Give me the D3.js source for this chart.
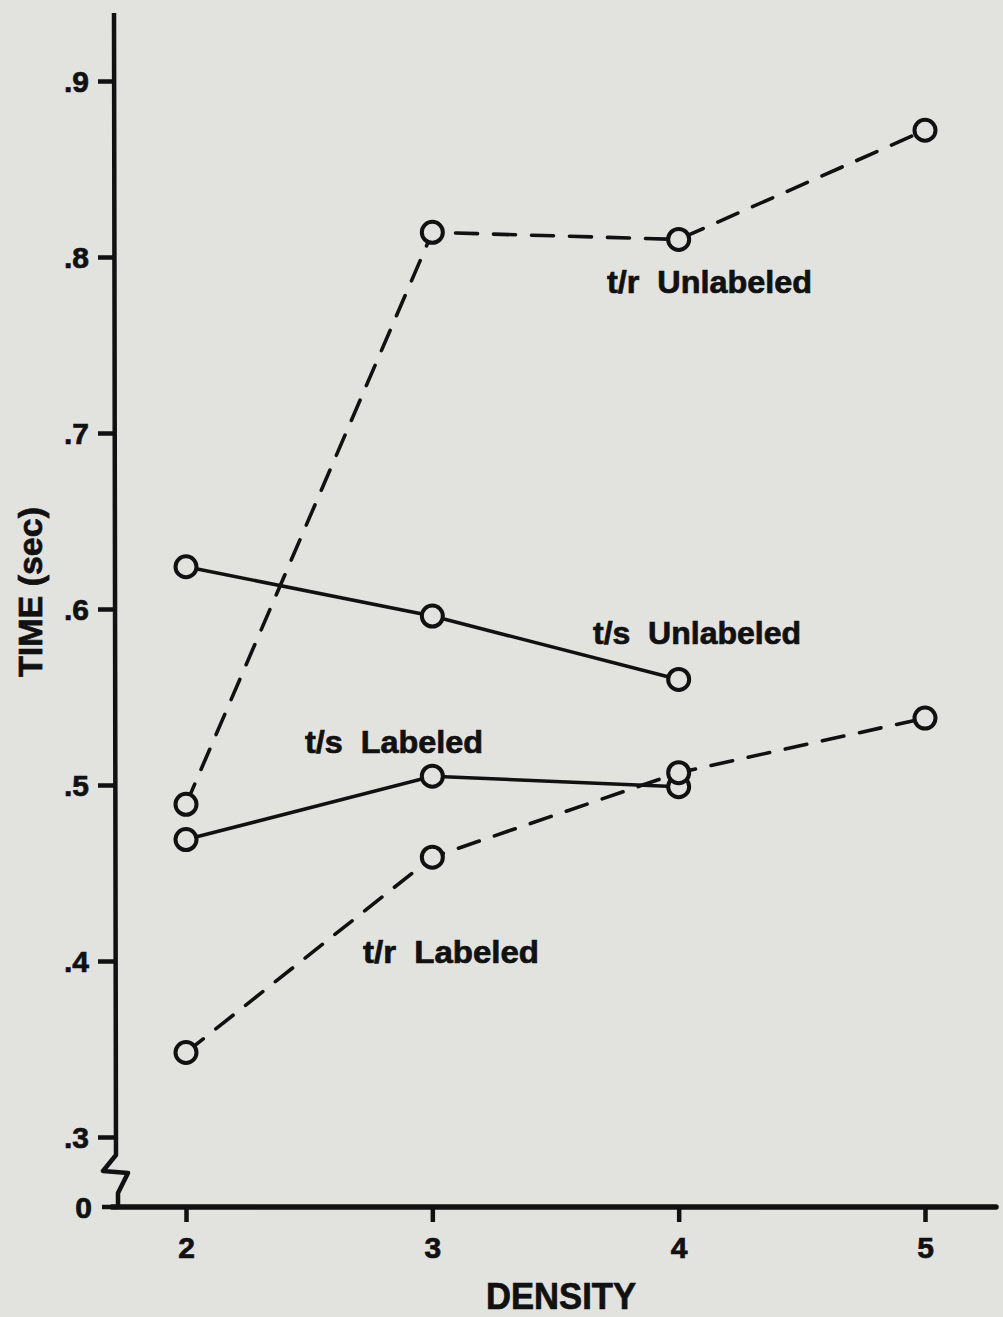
<!DOCTYPE html>
<html><head><meta charset="utf-8">
<script src="https://cdn.jsdelivr.net/npm/d3@7"></script>
<style>
html,body{margin:0;padding:0;background:#e2e2df;}
svg{display:block;}
text{font-family:"Liberation Sans",Arial,sans-serif;font-weight:bold;fill:#111;stroke:#111;stroke-width:0.7px;}
</style></head>
<body>
<script>
const densities = [2, 3, 4, 5];
const yTicks = [0.3, 0.4, 0.5, 0.6, 0.7, 0.8, 0.9];
const trUnlabeled = [0.489, 0.814, 0.810, 0.872];
const tsUnlabeled = [0.624, 0.596, 0.560];
const tsLabeled = [0.469, 0.505, 0.499];
const trLabeled = [0.348, 0.459, 0.507, 0.538];
const seriesNames = ["t/r  Unlabeled", "t/s  Unlabeled", "t/s  Labeled", "t/r  Labeled"];

const W = 1003, H = 1317;
const svg = d3.select("body").append("svg").attr("width", W).attr("height", H);
const ink = "#111";

const x = d3.scaleLinear().domain([2, 5]).range([186, 925]);
const y = d3.scaleLinear().domain([0.3, 0.9]).range([1137, 81]);
const axisX = 114, baseY = 1207;

// y axis line with break
const yPath = d3.path();
yPath.moveTo(axisX, 13);
yPath.lineTo(axisX + 2, 1155);
yPath.lineTo(103, 1171);
yPath.lineTo(128, 1173);
yPath.lineTo(118, 1193);
yPath.lineTo(118, baseY);
svg.append("path").attr("d", yPath.toString()).attr("fill", "none")
  .attr("stroke", ink).attr("stroke-width", 4.5).attr("stroke-linejoin", "round");

// y ticks
const gy = svg.append("g").attr("transform", `translate(${axisX},0)`)
  .call(d3.axisLeft(y).tickValues(yTicks).tickSize(16).tickPadding(9)
    .tickFormat(d => "." + Math.round(d * 10)));
gy.select(".domain").remove();
gy.selectAll("line").attr("stroke", ink).attr("stroke-width", 4.5);
gy.selectAll("text").style("font-size", "30px").attr("fill", ink).attr("dy", "0.36em");

// zero tick
svg.append("line").attr("x1", 102).attr("x2", 118).attr("y1", baseY).attr("y2", baseY)
  .attr("stroke", ink).attr("stroke-width", 4.5);
svg.append("text").attr("x", 92).attr("y", baseY).attr("dy", "0.36em")
  .attr("text-anchor", "end").style("font-size", "30px").text("0");

// x axis
svg.append("line").attr("x1", 112).attr("x2", 996).attr("y1", baseY).attr("y2", baseY)
  .attr("stroke", ink).attr("stroke-width", 5.5).attr("stroke-linecap", "round");
const gx = svg.append("g").attr("transform", `translate(0,${baseY})`)
  .call(d3.axisBottom(x).tickValues(densities).tickSize(15).tickPadding(15).tickFormat(d3.format("d")));
gx.select(".domain").remove();
gx.selectAll("line").attr("stroke", ink).attr("stroke-width", 4.5);
gx.selectAll("text").style("font-size", "30px").attr("fill", ink);

// axis titles
svg.append("text").attr("x", 561).attr("y", 1309).attr("text-anchor", "middle")
  .style("font-size", "37px").attr("textLength", 150).attr("lengthAdjust", "spacingAndGlyphs").text("DENSITY");
svg.append("text").attr("transform", "translate(42,592) rotate(-90)")
  .attr("text-anchor", "middle").style("font-size", "34px").attr("textLength", 170)
  .attr("lengthAdjust", "spacingAndGlyphs").text("TIME (sec)");

// series
const series = [
  {vals: trUnlabeled, dash: "22,16"},
  {vals: tsUnlabeled, dash: null},
  {vals: tsLabeled, dash: null},
  {vals: trLabeled, dash: "22,16"}
];
const line = d3.line().x((d, i) => x(densities[i])).y(d => y(d));
series.forEach(s => {
  svg.append("path").attr("d", line(s.vals)).attr("fill", "none")
    .attr("stroke", ink).attr("stroke-width", 3.6)
    .attr("stroke-dasharray", s.dash).attr("stroke-linecap", "round");
});
series.forEach(s => {
  svg.selectAll(null).data(s.vals).enter().append("circle")
    .attr("cx", (d, i) => x(densities[i])).attr("cy", d => y(d)).attr("r", 10.5)
    .attr("fill", "#e2e2df").attr("stroke", ink).attr("stroke-width", 4);
});

// series labels
const labelPos = [
  {x: 607, y: 293, w: 205},
  {x: 593, y: 644, w: 208},
  {x: 305, y: 753, w: 178},
  {x: 363, y: 963, w: 176}
];
seriesNames.forEach((n, i) => {
  svg.append("text").attr("x", labelPos[i].x).attr("y", labelPos[i].y)
    .style("font-size", "31px").attr("textLength", labelPos[i].w)
    .attr("lengthAdjust", "spacingAndGlyphs").style("white-space", "pre").text(n);
});
</script>
</body></html>
